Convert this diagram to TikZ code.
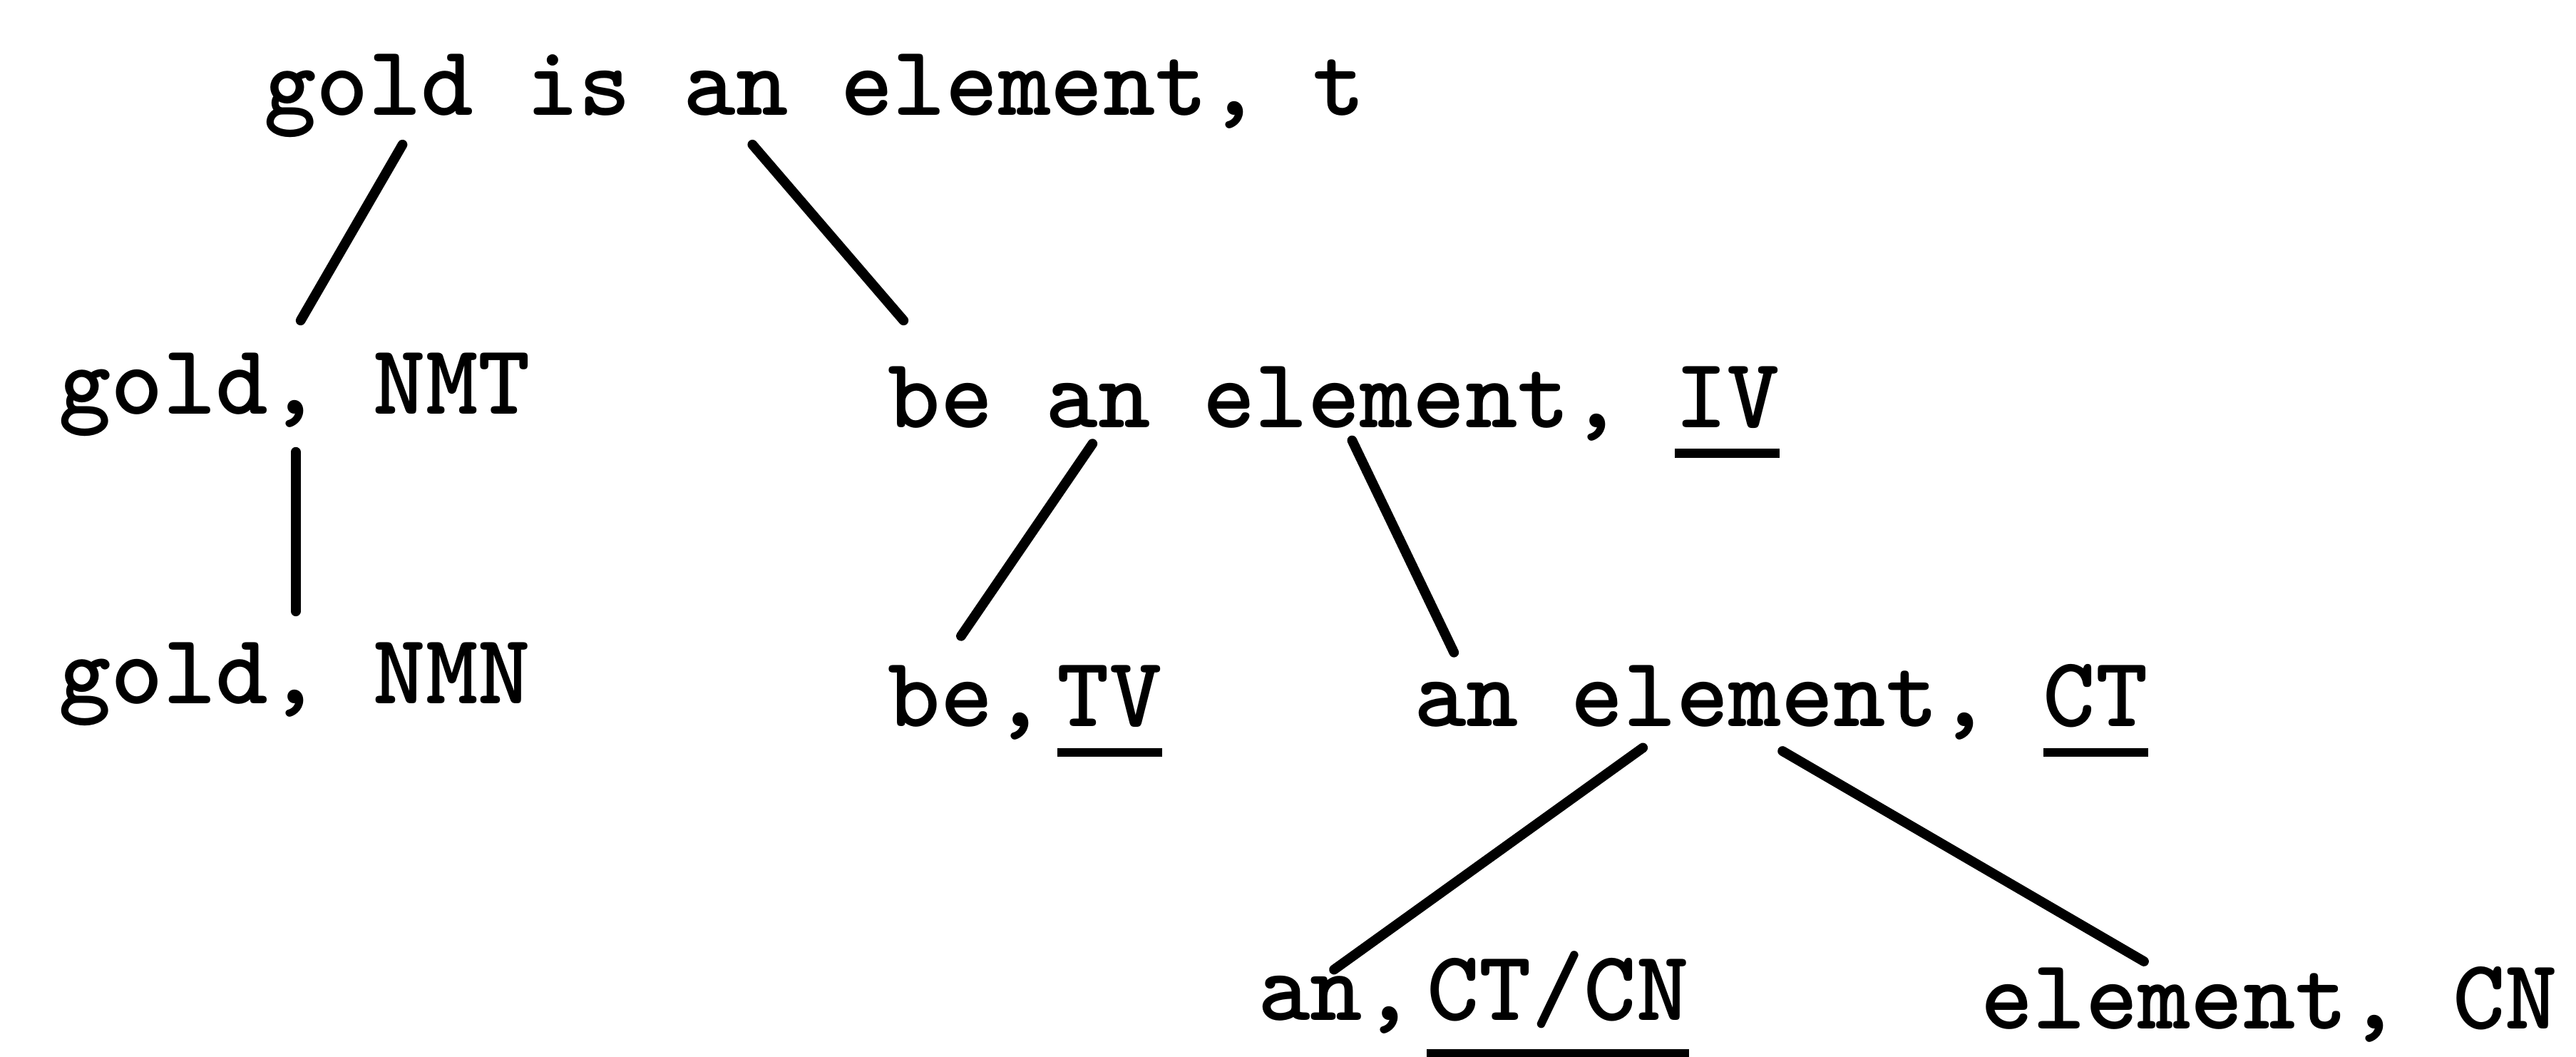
\documentclass[tikz,border=0pt]{standalone}
\usepackage{fontspec}
\usetikzlibrary{positioning}
% typed underline under a category name
\newcommand{\tyul}[1]{\leavevmode\vtop{\hbox{#1}\kern3.6pt\hrule height 1.5pt}}
\tikzset{
  word/.style={anchor=base west, inner sep=0pt, font=\ttfamily\bfseries\fontsize{17.3}{20}\selectfont},
  branch/.style={line width=1.7pt, line cap=round},
}

\begin{document}
\begin{tikzpicture}
  \useasboundingbox (0,0) rectangle (15.68,6.43);

  % analysis tree nodes, row by row
  \node[word] (root)    at (1.60,5.73) {gold is an element, t};
  \node[word] (goldnmt) at (0.35,3.91) {gold, NMT};
  \node[word] (beiv)    at (5.40,3.83) {be an element, \tyul{IV}};
  \node[word] (goldnmn) at (0.35,2.15) {gold, NMN};
  \node[word] (betv)    at (5.40,2.01) {be,\kern2pt\tyul{TV}};
  \node[word] (anct)    at (8.60,2.01) {an element, \tyul{CT}};
  \node[word] (anctcn)  at (7.65,0.22) {an,\kern2pt\tyul{CT/CN}};
  \node[word] (elemcn)  at (12.05,0.17) {element, CN};

  % branches
  \draw[branch] ([shift={(0.85,-0.18)}]root.base west) -- ([shift={(1.48,0.57)}]goldnmt.base west);
  \draw[branch] ([shift={(2.98,-0.18)}]root.base west) -- ([shift={(0.10,0.65)}]beiv.base west);
  \draw[branch] ([shift={(1.45,-0.23)}]goldnmt.base west) -- ([shift={(1.45,0.56)}]goldnmn.base west);
  \draw[branch] ([shift={(1.25,-0.10)}]beiv.base west) -- ([shift={(0.45,0.55)}]betv.base west);
  \draw[branch] ([shift={(2.83,-0.08)}]beiv.base west) -- ([shift={(0.25,0.45)}]anct.base west);
  \draw[branch] ([shift={(1.40,-0.13)}]anct.base west) -- ([shift={(0.47,0.31)}]anctcn.base west);
  \draw[branch] ([shift={(2.25,-0.15)}]anct.base west) -- ([shift={(1.00,0.41)}]elemcn.base west);

\end{tikzpicture}
\end{document}
